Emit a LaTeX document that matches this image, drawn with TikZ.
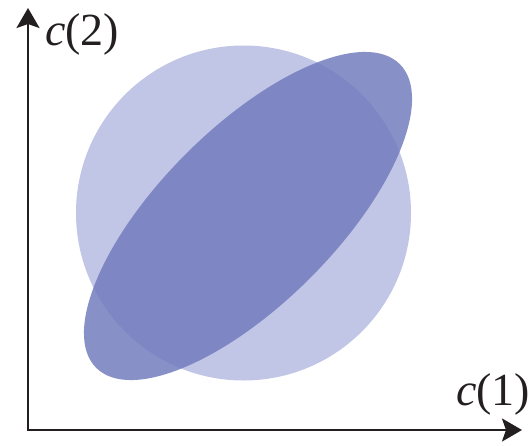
\documentclass[tikz,border=0pt]{standalone}
\usepackage{fontspec}
\setmainfont{Liberation Serif}
\usepackage{tikz}
\usetikzlibrary{arrows.meta}
\definecolor{ink}{HTML}{231F20}
\definecolor{lightblue}{HTML}{C1C6E6}
\definecolor{deepblue}{HTML}{737DBE}
\tikzset{
  disc/.style={fill=lightblue},
  blob/.style={fill=deepblue,fill opacity=0.85},
  axis/.style={{Stealth[length=20pt,width=23pt,inset=4pt]}-{Stealth[length=20pt,width=23pt,inset=4pt]},draw=ink,line width=2.5pt},
  lbl/.style={font=\fontsize{46}{52}\selectfont,text=ink,inner sep=0pt,anchor=base west}}

\begin{document}
\begin{tikzpicture}[x=1pt,y=1pt]
  \useasboundingbox (0,0) rectangle (529,445);
  \coordinate (O) at (28,15);
  \coordinate (ytip) at (28,437);
  \coordinate (xtip) at (522,15);
  \coordinate (mid) at (243.5,232);
  \fill[disc] (mid) circle[radius=167.5pt];
  \fill[blob] (248,229) ellipse[x radius=214.7pt,y radius=87.8pt,rotate=45];
  \draw[axis] (ytip) -- (O) -- (xtip);
  \node[lbl] (ylab) at (45,399) {\textit{c}(2)};
  \node[lbl] (xlab) at (456,40) {\textit{c}(1)};
\end{tikzpicture}
\end{document}
